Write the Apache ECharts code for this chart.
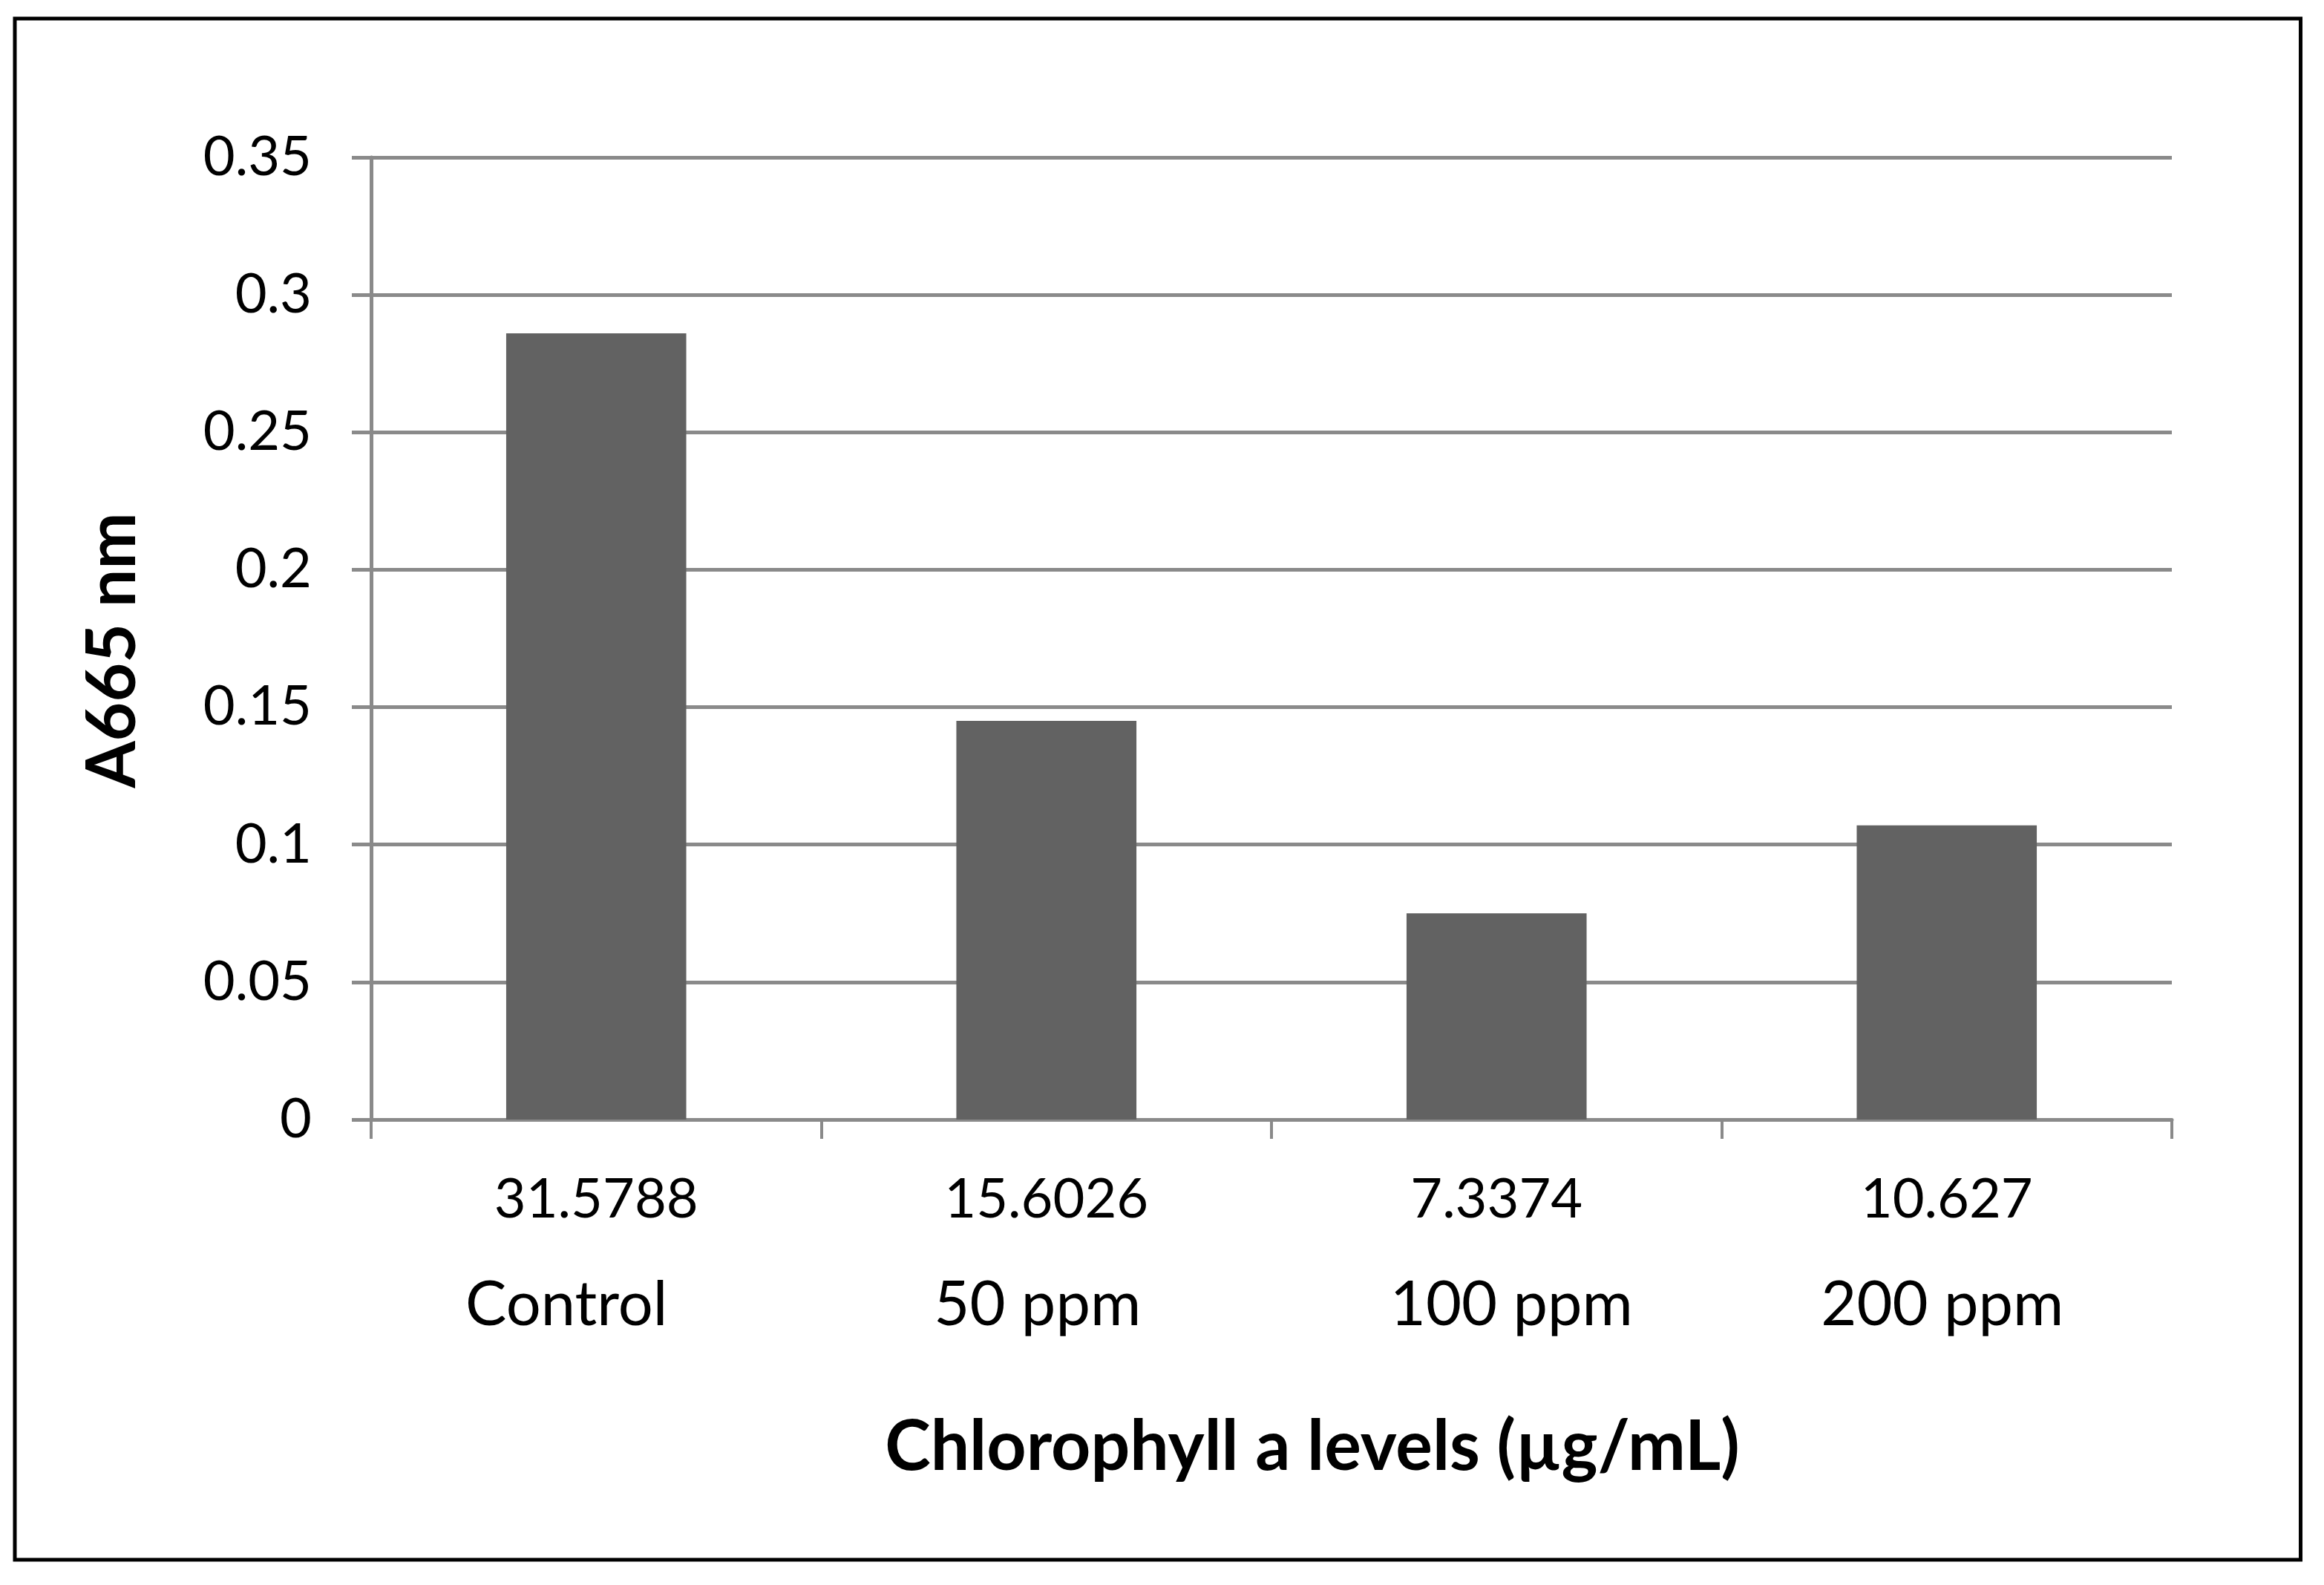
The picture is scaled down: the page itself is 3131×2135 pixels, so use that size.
<!DOCTYPE html>
<html>
<head>
<meta charset="utf-8">
<script src="https://cdn.jsdelivr.net/npm/echarts@6/dist/echarts.min.js"></script>
<style>
html,body{margin:0;padding:0;background:#fff;}
#chart{width:3131px;height:2135px;}
</style>
</head>
<body>
<div id="chart"></div>
<script>
// ---- data ----
const categories = ["Control", "50 ppm", "100 ppm", "200 ppm"];
const chlorophyllLevels = ["31.5788", "15.6026", "7.3374", "10.627"];
const a665Values = [0.286, 0.145, 0.075, 0.107];
const yTickMin = 0;
const yTickMax = 0.35;
const yTickStep = 0.05;
const xAxisTitle = "Chlorophyll a levels (µg/mL)";
const yAxisTitle = "A665 nm";

// ---- styling ----
const FONT = "Lato";
const line2Shift = [-40, -12, 20, -6];
const rich = {
  n: { fontFamily: FONT, fontSize: 74, color: "#000", lineHeight: 142 }
};
line2Shift.forEach((s, i) => {
  rich["c" + i] = {
    fontFamily: FONT, fontSize: 83, color: "#000", lineHeight: 142,
    padding: s < 0 ? [0, -2 * s, 0, 0] : [0, 0, 0, 2 * s]
  };
});

const chart = echarts.init(document.getElementById("chart"), null, { renderer: "canvas" });
chart.setOption({
  animation: false,
  backgroundColor: "#ffffff",
  grid: { left: 500, right: 205, top: 212, bottom: 627, containLabel: false },
  graphic: [{
    type: "rect",
    shape: { x: 20, y: 25, width: 3079.5, height: 2076 },
    style: { fill: "none", stroke: "#000", lineWidth: 5 },
    silent: true
  }],
  xAxis: {
    type: "category",
    data: categories,
    axisLine: { show: true, lineStyle: { color: "#8a8a8a", width: 5 } },
    axisTick: { show: true, alignWithLabel: false, length: 26, lineStyle: { color: "#8a8a8a", width: 4 } },
    axisLabel: {
      margin: 37,
      interval: 0,
      formatter: (value, index) => "{n|" + chlorophyllLevels[index] + "}\n{c" + index + "|" + value + "}",
      rich: rich
    },
    name: xAxisTitle,
    nameLocation: "middle",
    nameGap: 390,
    nameTextStyle: {
      fontFamily: FONT, fontSize: 93, fontWeight: "bold", color: "#000",
      lineHeight: 104, padding: [0, 0, 0, 110]
    }
  },
  yAxis: {
    type: "value",
    min: yTickMin,
    max: yTickMax,
    interval: yTickStep,
    axisLine: { show: true, lineStyle: { color: "#8a8a8a", width: 5 } },
    axisTick: { show: true, length: 26, lineStyle: { color: "#8a8a8a", width: 5 } },
    splitLine: { show: true, lineStyle: { color: "#8a8a8a", width: 5 } },
    axisLabel: {
      margin: 80,
      fontFamily: FONT, fontSize: 74, color: "#000",
      formatter: v => String(+v.toFixed(2))
    },
    name: yAxisTitle,
    nameLocation: "middle",
    nameGap: 297,
    nameRotate: 90,
    nameTextStyle: {
      fontFamily: FONT, fontSize: 91, fontWeight: "bold", color: "#000", lineHeight: 100,
      padding: [0, 32, 0, 0]
    }
  },
  series: [{
    type: "bar",
    data: a665Values,
    barWidth: "40%",
    itemStyle: { color: "#626262" },
    emphasis: { disabled: true }
  }]
});
</script>
</body>
</html>
